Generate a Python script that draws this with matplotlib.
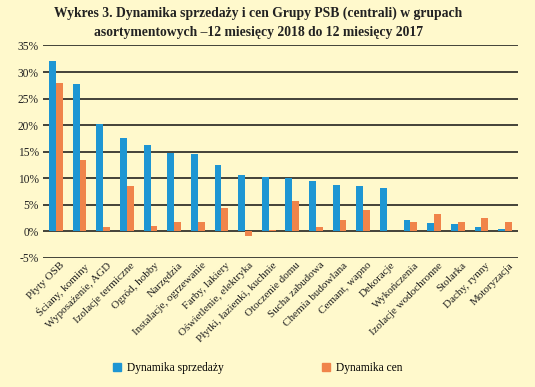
import matplotlib
matplotlib.use("Agg")
import matplotlib.pyplot as plt
import numpy as np

categories = ["Płyty OSB", "Ściany, kominy", "Wyposażenie, AGD", "Izolacje termiczne",
              "Ogród, hobby", "Narzędzia", "Instalacje, ogrzewanie", "Farby, lakiery",
              "Oświetlenie, elektryka", "Płytki, łazienki, kuchnie", "Otoczenie domu",
              "Sucha zabudowa", "Chemia budowlana", "Cemant, wapno", "Dekoracje",
              "Wykończenia", "Izolacje wodochronne", "Stolarka", "Dachy, rynny", "Motoryzacja"]
sprzedaz = [32.0, 27.8, 20.3, 17.5, 16.2, 14.8, 14.6, 12.5, 10.6, 10.3,
            10.1, 9.4, 8.7, 8.5, 8.2, 2.1, 1.6, 1.4, 0.75, 0.4]
ceny = [28.0, 13.4, 0.8, 8.5, 1.0, 1.7, 1.8, 4.5, -0.9, 0.25,
        5.7, 0.9, 2.2, 4.1, 0.05, 1.8, 3.2, 1.8, 2.6, 1.7]
yticks = [-5, 0, 5, 10, 15, 20, 25, 30, 35]

bg = "#fff9cc"
blue = "#1e96d3"
orange = "#f0844a"
serif = ["Liberation Serif", "DejaVu Serif"]

fig = plt.figure(figsize=(5.35, 3.87), dpi=100, facecolor=bg)
ax = fig.add_axes([43/535, 1-258/387, (518-43)/535, (258-45.5)/387])
ax.set_facecolor(bg)

x = np.arange(len(categories))
w = 0.29
ax.bar(x - w/2, sprzedaz, width=w, color=blue, zorder=3, label="Dynamika sprzedaży")
ax.bar(x + w/2, ceny, width=w, color=orange, zorder=3, label="Dynamika cen")

ax.set_xlim(-0.55, len(categories) - 0.45)
ax.set_ylim(-5, 35)
ax.set_yticks(yticks)
ax.set_yticklabels([f"{v}%" for v in yticks], fontsize=8.3, family=serif, color="#222222")
ax.yaxis.grid(True, color="#111111", linewidth=1.1, zorder=1)
ax.tick_params(axis="y", length=0, pad=3)
ax.tick_params(axis="x", length=0, pad=2)
for s in ax.spines.values():
    s.set_visible(False)

ax.set_xticks(x + 0.15)
ax.set_xticklabels(categories, rotation=45, ha="right", rotation_mode="anchor",
                   fontsize=8, family=serif, color="#222222")

fig.text(0.483, 0.967, "Wykres 3. Dynamika sprzedaży i cen Grupy PSB (centrali) w grupach",
         ha="center", va="center", fontsize=9.8, fontweight="bold", family=serif, color="#222222")
fig.text(0.483, 0.915, "asortymentowych –12 miesięcy 2018 do 12 miesięcy 2017",
         ha="center", va="center", fontsize=9.8, fontweight="bold", family=serif, color="#222222")

h1 = plt.Rectangle((0, 0), 1, 1, color=blue)
h2 = plt.Rectangle((0, 0), 1, 1, color=orange)
fig.legend([h1], ["Dynamika sprzedaży"], loc="center left",
           bbox_to_anchor=(103/535, 1-368/387), frameon=False,
           prop={"family": serif, "size": 8.3}, handlelength=0.7, handleheight=0.7,
           handletextpad=0.45)
fig.legend([h2], ["Dynamika cen"], loc="center left",
           bbox_to_anchor=(312/535, 1-368/387), frameon=False,
           prop={"family": serif, "size": 8.3}, handlelength=0.7, handleheight=0.7,
           handletextpad=0.45)

fig.savefig("out.png", dpi=100, facecolor=bg)
